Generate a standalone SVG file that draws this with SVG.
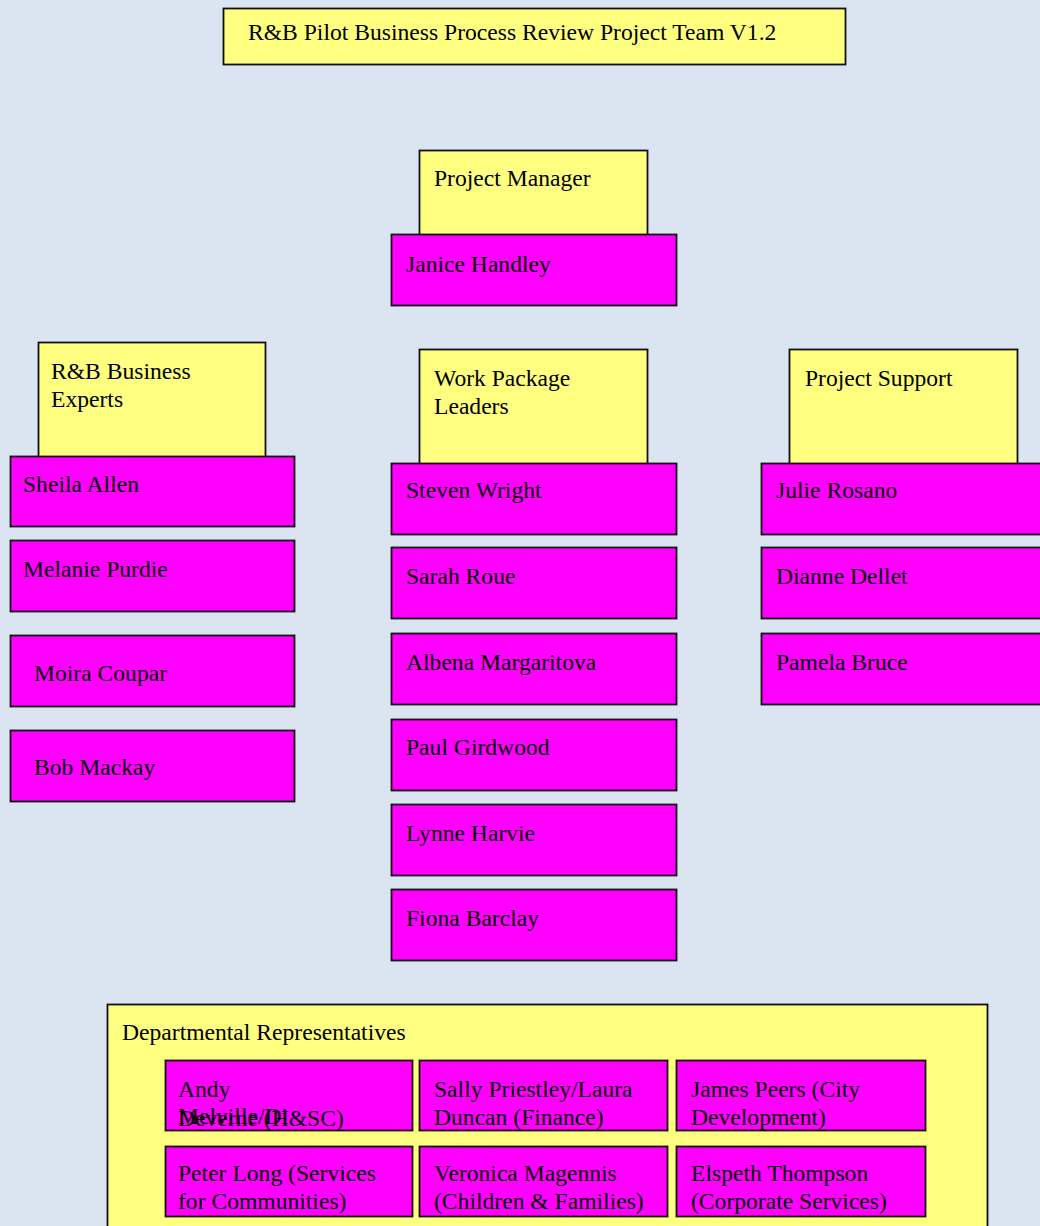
<svg xmlns="http://www.w3.org/2000/svg" width="1040" height="1226" viewBox="0 0 1040 1226">
<style>
.bg{fill:#dbe5f1}
.y{fill:#ffff80;stroke:#111;stroke-width:1.8}
.m{fill:#ff00ff;stroke:#111;stroke-width:1.8}
text{font-family:"Liberation Serif","Times New Roman",serif;font-size:23.6px;fill:#000}
</style>
<rect class="bg" x="0" y="0" width="1040" height="1226"/>
<g id="title"><rect class="y" x="223.5" y="8.5" width="622" height="56"/><text x="248" y="40">R&amp;B Pilot Business Process Review Project Team V1.2</text></g>
<g id="pm-role"><rect class="y" x="419.5" y="150.5" width="228" height="90"/><text x="434" y="186">Project Manager</text></g>
<g id="janice"><rect class="m" x="391.5" y="234.5" width="285" height="71"/><text x="406" y="272">Janice Handley</text></g>
<g id="experts-role"><rect class="y" x="38.5" y="342.5" width="227" height="120"/><text x="51" y="379">R&amp;B Business</text><text x="51" y="407">Experts</text></g>
<g id="sheila"><rect class="m" x="10.5" y="456.5" width="284" height="70"/><text x="23" y="492">Sheila Allen</text></g>
<g id="melanie"><rect class="m" x="10.5" y="540.5" width="284" height="71"/><text x="23" y="577">Melanie Purdie</text></g>
<g id="moira"><rect class="m" x="10.5" y="635.5" width="284" height="71"/><text x="34" y="681">Moira Coupar</text></g>
<g id="bob"><rect class="m" x="10.5" y="730.5" width="284" height="71"/><text x="34" y="775">Bob Mackay</text></g>
<g id="wpl-role"><rect class="y" x="419.5" y="349.5" width="228" height="120"/><text x="434" y="386">Work Package</text><text x="434" y="414">Leaders</text></g>
<g id="steven"><rect class="m" x="391.5" y="463.5" width="285" height="71"/><text x="406" y="498">Steven Wright</text></g>
<g id="sarah"><rect class="m" x="391.5" y="547.5" width="285" height="71"/><text x="406" y="584">Sarah Roue</text></g>
<g id="albena"><rect class="m" x="391.5" y="633.5" width="285" height="71"/><text x="406" y="670">Albena Margaritova</text></g>
<g id="paul"><rect class="m" x="391.5" y="719.5" width="285" height="71"/><text x="406" y="755">Paul Girdwood</text></g>
<g id="lynne"><rect class="m" x="391.5" y="804.5" width="285" height="71"/><text x="406" y="841">Lynne Harvie</text></g>
<g id="fiona"><rect class="m" x="391.5" y="889.5" width="285" height="71"/><text x="406" y="926">Fiona Barclay</text></g>
<g id="support-role"><rect class="y" x="789.5" y="349.5" width="228" height="120"/><text x="805" y="386">Project Support</text></g>
<g id="julie"><rect class="m" x="761.5" y="463.5" width="285" height="71"/><text x="776" y="498">Julie Rosano</text></g>
<g id="dianne"><rect class="m" x="761.5" y="547.5" width="285" height="71"/><text x="776" y="584">Dianne Dellet</text></g>
<g id="pamela"><rect class="m" x="761.5" y="633.5" width="285" height="71"/><text x="776" y="670">Pamela Bruce</text></g>
<g id="dept"><rect class="y" x="107.5" y="1004.5" width="880" height="240"/><text x="122" y="1040">Departmental Representatives</text></g>
<g id="andy"><rect class="m" x="165.5" y="1060.5" width="247" height="70"/><text x="178" y="1097">Andy</text><text x="178" y="1124">Melville/Di</text><text x="178" y="1126">Deverne (H&amp;SC)</text></g>
<g id="sally"><rect class="m" x="419.5" y="1060.5" width="248" height="70"/><text x="434" y="1097">Sally Priestley/Laura</text><text x="434" y="1125">Duncan (Finance)</text></g>
<g id="james"><rect class="m" x="676.5" y="1060.5" width="249" height="70"/><text x="691" y="1097">James Peers (City</text><text x="691" y="1125">Development)</text></g>
<g id="peter"><rect class="m" x="165.5" y="1146.5" width="247" height="70"/><text x="178" y="1181">Peter Long (Services</text><text x="178" y="1209">for Communities)</text></g>
<g id="veronica"><rect class="m" x="419.5" y="1146.5" width="248" height="70"/><text x="434" y="1181">Veronica Magennis</text><text x="434" y="1209">(Children &amp; Families)</text></g>
<g id="elspeth"><rect class="m" x="676.5" y="1146.5" width="249" height="70"/><text x="691" y="1181">Elspeth Thompson</text><text x="691" y="1209">(Corporate Services)</text></g>
<g id="connectors"></g>
</svg>
